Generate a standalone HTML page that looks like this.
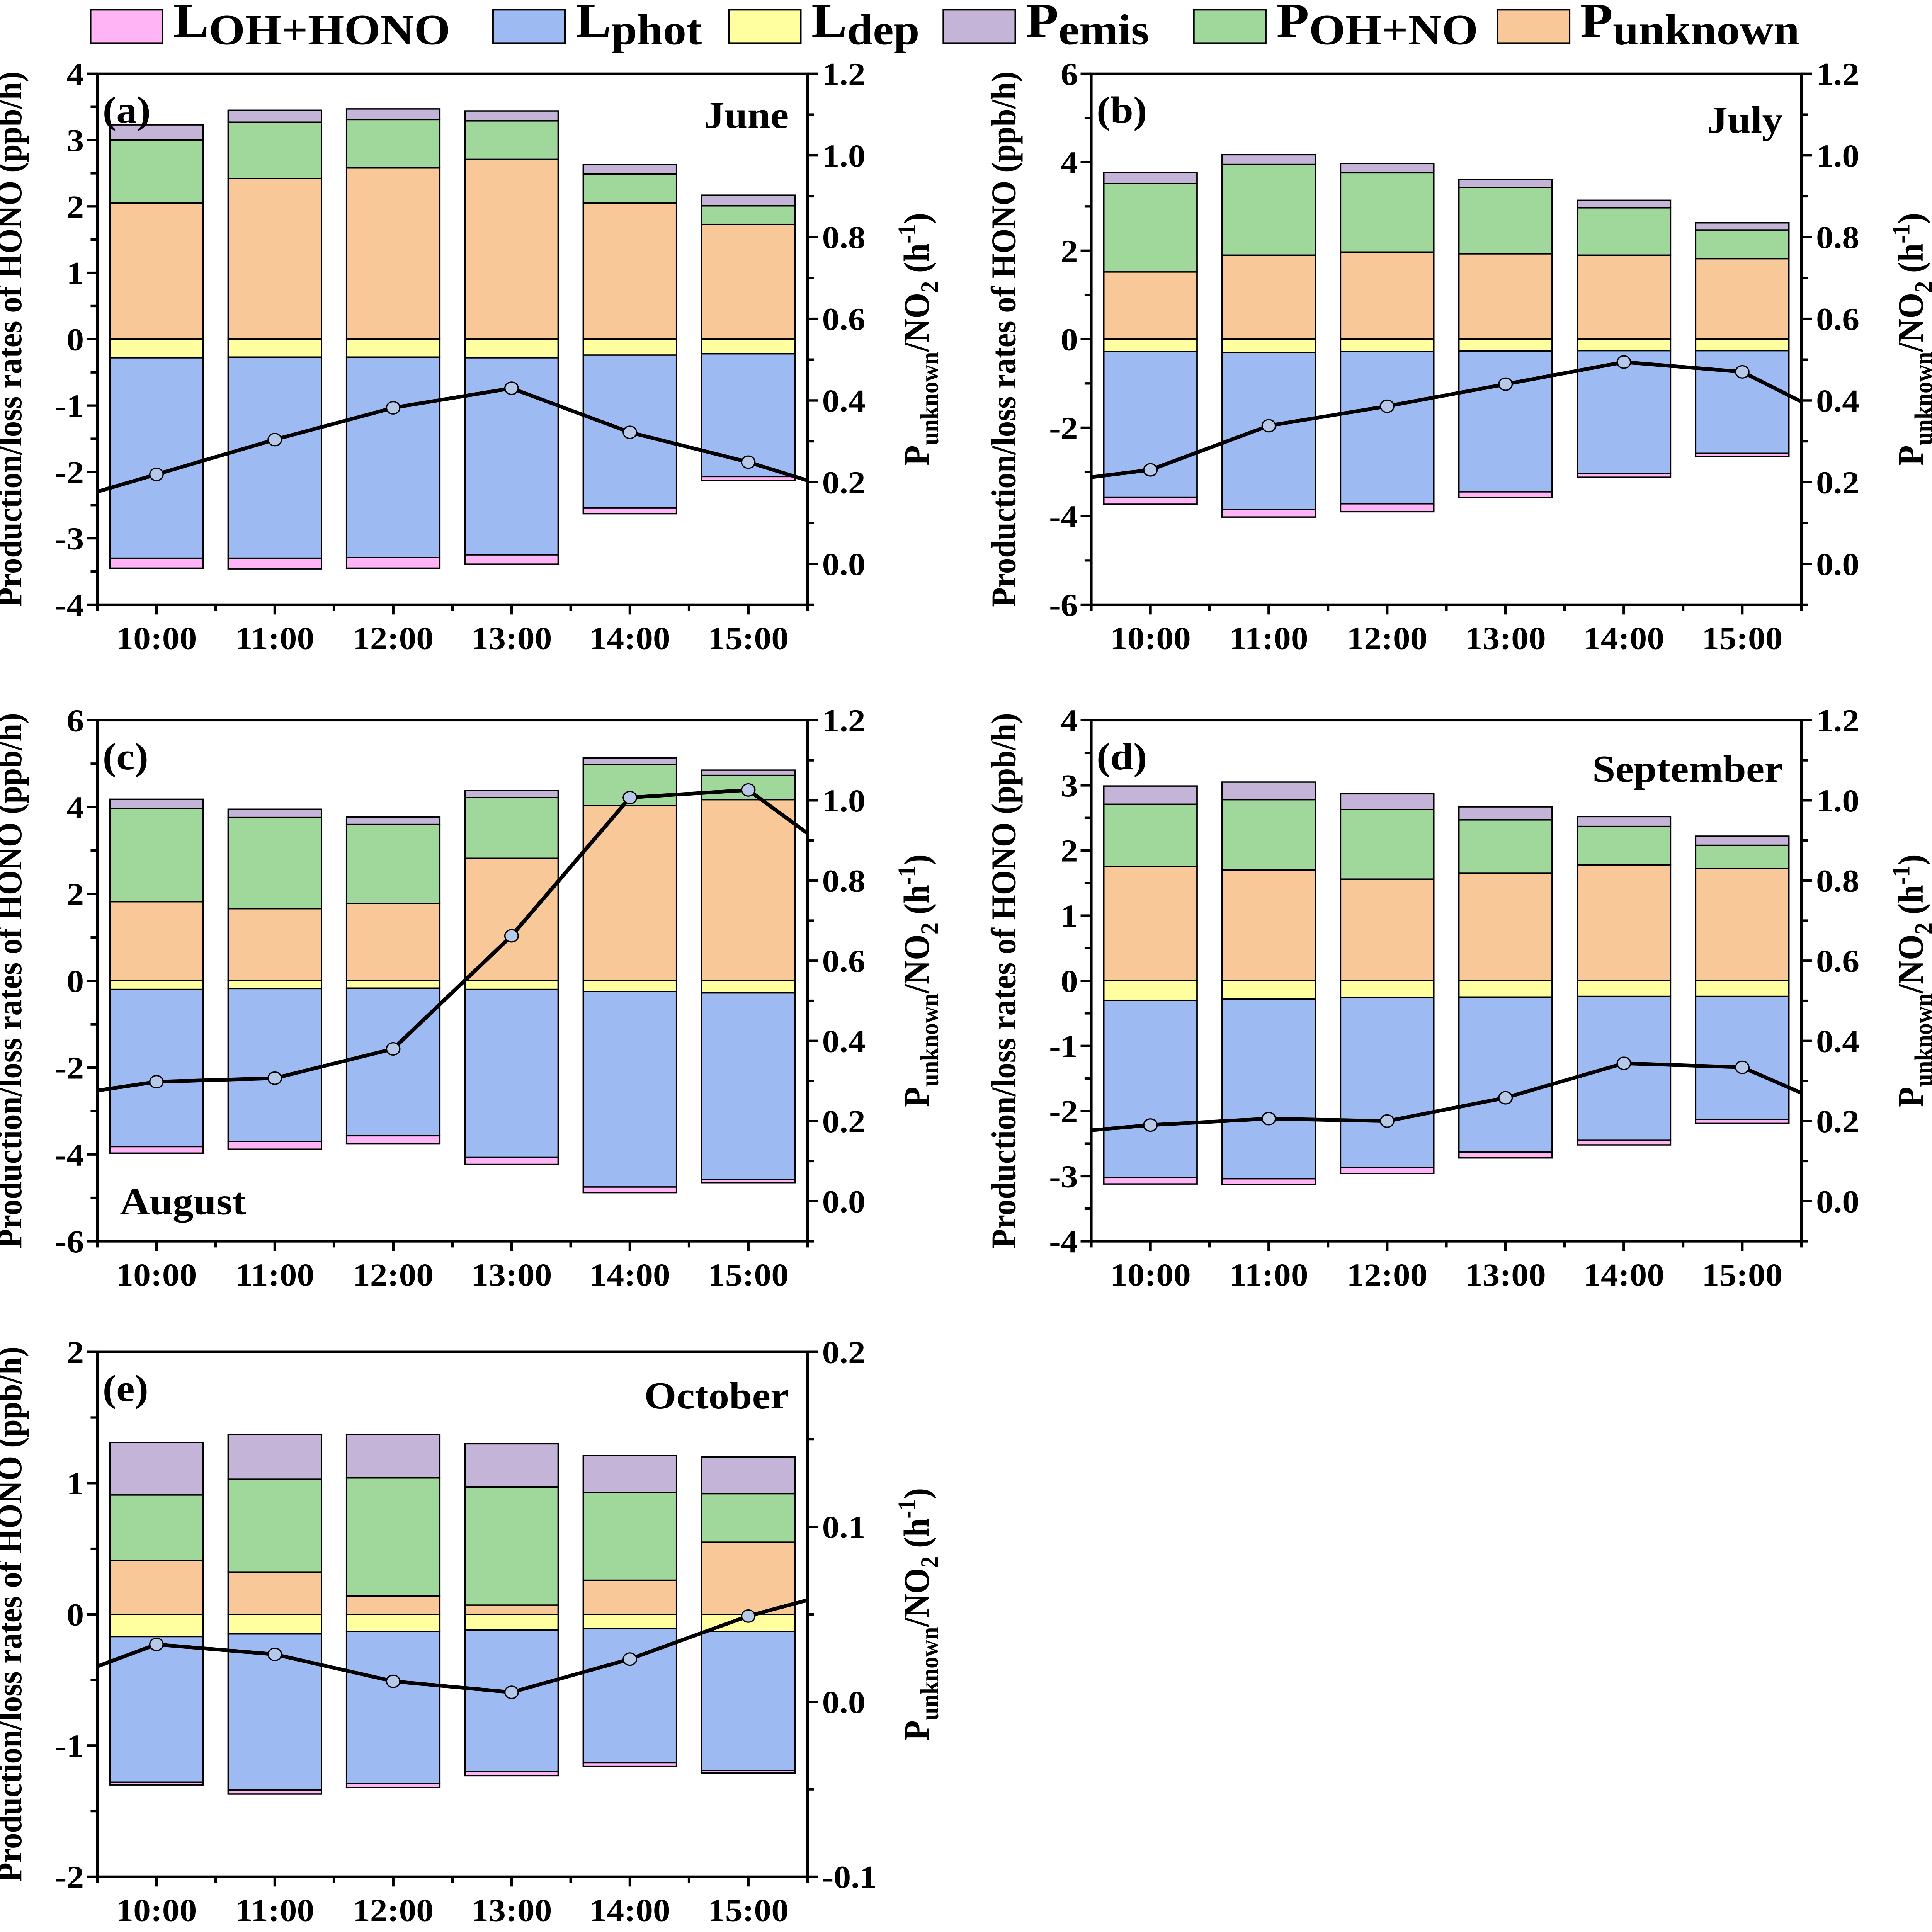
<!DOCTYPE html>
<html><head><meta charset="utf-8">
<style>
html,body{margin:0;padding:0;background:#fff;width:100%;height:100%;overflow:hidden;}
svg{display:block;width:100vw;height:100vh;}
text{font-family:"Liberation Serif","DejaVu Serif",serif;font-weight:bold;fill:#000;}
</style></head>
<body>
<svg id="chart" xmlns="http://www.w3.org/2000/svg" viewBox="0 0 1450 1572" preserveAspectRatio="none">
<rect x="0" y="0" width="1450" height="1572" fill="#fff"/>
</svg>
<script>
const categories = ["10:00","11:00","12:00","13:00","14:00","15:00"];
const lineHours = ["09:00","10:00","11:00","12:00","13:00","14:00","15:00","16:00"];
const seriesNames = ["LOH+HONO","Lphot","Ldep","Pemis","POH+NO","Punknown"];

// June (a)
const punknownA = [2.05,2.42,2.58,2.71,2.05,1.73];
const pohnoA = [0.95,0.85,0.73,0.58,0.44,0.28];
const pemisA = [0.23,0.18,0.16,0.15,0.14,0.16];
const ldepA = [0.28,0.27,0.27,0.28,0.24,0.22];
const lphotA = [3.02,3.03,3.02,2.97,2.30,1.85];
const lohA = [0.15,0.16,0.16,0.14,0.09,0.06];
const ratioA = [0.134,0.219,0.304,0.382,0.430,0.322,0.249,0.159];
// July (b)
const punknownB = [1.52,1.90,1.97,1.93,1.90,1.82];
const pohnoB = [2.00,2.05,1.79,1.50,1.07,0.65];
const pemisB = [0.25,0.22,0.21,0.18,0.17,0.16];
const ldepB = [0.28,0.30,0.28,0.27,0.26,0.26];
const lphotB = [3.29,3.55,3.44,3.18,2.77,2.32];
const lohB = [0.16,0.17,0.18,0.13,0.09,0.07];
const ratioB = [0.194,0.230,0.338,0.386,0.440,0.494,0.470,0.324];
// August (c)
const punknownC = [1.82,1.66,1.78,2.82,4.03,4.17];
const pohnoC = [2.15,2.10,1.82,1.40,0.95,0.56];
const pemisC = [0.21,0.19,0.17,0.16,0.15,0.12];
const ldepC = [0.20,0.18,0.17,0.20,0.25,0.28];
const lphotC = [3.62,3.52,3.40,3.87,4.50,4.29];
const lohC = [0.15,0.18,0.18,0.16,0.13,0.08];
const ratioC = [0.254,0.298,0.307,0.380,0.662,1.007,1.026,0.810];
// September (d)
const punknownD = [1.75,1.70,1.56,1.65,1.78,1.72];
const pohnoD = [0.96,1.08,1.07,0.82,0.59,0.36];
const pemisD = [0.28,0.27,0.24,0.20,0.15,0.14];
const ldepD = [0.30,0.28,0.26,0.25,0.24,0.24];
const lphotD = [2.72,2.76,2.61,2.38,2.21,1.89];
const lohD = [0.10,0.09,0.09,0.09,0.07,0.06];
const ratioD = [0.164,0.190,0.206,0.200,0.258,0.344,0.334,0.206];
// October (e)
const punknownE = [0.41,0.32,0.14,0.07,0.26,0.55];
const pohnoE = [0.50,0.71,0.90,0.90,0.67,0.37];
const pemisE = [0.40,0.34,0.33,0.33,0.28,0.28];
const ldepE = [0.17,0.15,0.13,0.12,0.11,0.13];
const lphotE = [1.11,1.19,1.16,1.08,1.02,1.06];
const lohE = [0.02,0.03,0.03,0.03,0.03,0.02];
const ratioE = [0.0076,0.0328,0.0271,0.0117,0.0054,0.0244,0.0490,0.0672];

const leftTicksAD = [-4,-3,-2,-1,0,1,2,3,4];
const leftTicksBC = [-6,-4,-2,0,2,4,6];
const leftTicksE = [-2,-1,0,1,2];
const rightTicks = [0.0,0.2,0.4,0.6,0.8,1.0,1.2];
const rightTicksE = [-0.1,0.0,0.1,0.2];

const COL = {punk:"#f9c898", poh:"#a0d89c", pemis:"#c4b4d8", ldep:"#ffff9f", lphot:"#9dbaf2", loh:"#ffb4f6"};
const NS = "http://www.w3.org/2000/svg";
const svg = document.getElementById("chart");
function mk(tag, attrs, parent){ const e=document.createElementNS(NS,tag); for(const k in attrs) e.setAttribute(k,attrs[k]); (parent||svg).appendChild(e); return e; }

const panels = [
 {id:"a", month:"June", mx:592, my:104, manchor:"end", x0:73,x1:606,y0:60,y1:492, lmin:-4,lmax:4, lt:leftTicksAD, lminor:0.5, rmin:-0.1,rmax:1.2, rt:rightTicks, rminor:0.1, rfmt:1,
  punk:punknownA,poh:pohnoA,pemis:pemisA,ldep:ldepA,lphot:lphotA,loh:lohA,ratio:ratioA},
 {id:"b", month:"July", mx:1338, my:108, manchor:"end", x0:819,x1:1352,y0:60,y1:492, lmin:-6,lmax:6, lt:leftTicksBC, lminor:1, rmin:-0.1,rmax:1.2, rt:rightTicks, rminor:0.1, rfmt:1,
  punk:punknownB,poh:pohnoB,pemis:pemisB,ldep:ldepB,lphot:lphotB,loh:lohB,ratio:ratioB},
 {id:"c", month:"August", mx:90, my:988, manchor:"start", x0:73,x1:606,y0:586,y1:1010, lmin:-6,lmax:6, lt:leftTicksBC, lminor:1, rmin:-0.1,rmax:1.2, rt:rightTicks, rminor:0.1, rfmt:1,
  punk:punknownC,poh:pohnoC,pemis:pemisC,ldep:ldepC,lphot:lphotC,loh:lohC,ratio:ratioC},
 {id:"d", month:"September", mx:1338, my:636, manchor:"end", x0:819,x1:1352,y0:586,y1:1010, lmin:-4,lmax:4, lt:leftTicksAD, lminor:0.5, rmin:-0.1,rmax:1.2, rt:rightTicks, rminor:0.1, rfmt:1,
  punk:punknownD,poh:pohnoD,pemis:pemisD,ldep:ldepD,lphot:lphotD,loh:lohD,ratio:ratioD},
 {id:"e", month:"October", mx:592, my:1146, manchor:"end", x0:73,x1:606,y0:1100,y1:1527, lmin:-2,lmax:2, lt:leftTicksE, lminor:0.5, rmin:-0.1,rmax:0.2, rt:rightTicksE, rminor:0.05, rfmt:1,
  punk:punknownE,poh:pohnoE,pemis:pemisE,ldep:ldepE,lphot:lphotE,loh:lohE,ratio:ratioE}
];

function drawPanel(p){
  const g = mk("g",{});
  
  
  const n = categories.length, step=(p.x1-p.x0)/n, bw=70;
  const yL = v => p.y1 - (v-p.lmin)/(p.lmax-p.lmin)*(p.y1-p.y0);
  const yR = v => p.y1 - (v-p.rmin)/(p.rmax-p.rmin)*(p.y1-p.y0);
  const xC = i => p.x0 + (i+0.5)*step;
  for(let i=0;i<n;i++){
    const segs = [
      ["punk",0,p.punk[i]],["poh",p.punk[i],p.punk[i]+p.poh[i]],["pemis",p.punk[i]+p.poh[i],p.punk[i]+p.poh[i]+p.pemis[i]],
      ["ldep",0,-p.ldep[i]],["lphot",-p.ldep[i],-p.ldep[i]-p.lphot[i]],["loh",-p.ldep[i]-p.lphot[i],-p.ldep[i]-p.lphot[i]-p.loh[i]]
    ];
    for(const s of segs){
      const ya=yL(s[1]), yb=yL(s[2]);
      const r = mk("rect",{x:xC(i)-bw/2,y:Math.min(ya,yb),width:bw,height:Math.abs(yb-ya),fill:COL[s[0]],stroke:"#000","stroke-width":1.1},g);
      
      
    }
  }
  const cp = mk("clipPath",{id:"clip"+p.id},g);
  mk("rect",{x:p.x0,y:p.y0,width:p.x1-p.x0,height:p.y1-p.y0},cp);
  const pts = p.ratio.map((v,j)=>(xC(j-1)).toFixed(1)+","+yR(v).toFixed(1)).join(" ");
  const pl = mk("polyline",{points:pts,fill:"none",stroke:"#000","stroke-width":3,"clip-path":"url(#clip"+p.id+")"},g);
  
  
  for(let j=1;j<=n;j++){
    const c = mk("circle",{cx:xC(j-1),cy:yR(p.ratio[j]),r:5,fill:"#b7c9e8",stroke:"#000","stroke-width":1},g);
    
    
  }
  const fr = mk("rect",{x:p.x0,y:p.y0,width:p.x1-p.x0,height:p.y1-p.y0,fill:"none",stroke:"#000","stroke-width":2},g);
  
  
  for(let v=p.lmin; v<=p.lmax+1e-9; v+=p.lminor){
    const major = p.lt.some(t=>Math.abs(t-v)<1e-9);
    mk("line",{x1:p.x0,x2:p.x0-(major?8:5),y1:yL(v),y2:yL(v),stroke:"#000","stroke-width":2},g);
  }
  for(const t of p.lt){
    const tx = mk("text",{x:p.x0-10,y:yL(t)+9,"text-anchor":"end","font-size":26},g);
    tx.textContent = String(t);
    
    
  }
  for(let v=p.rmin; v<=p.rmax+1e-9; v+=p.rminor){
    const major = p.rt.some(t=>Math.abs(t-v)<1e-9);
    mk("line",{x1:p.x1,x2:p.x1+(major?8:5),y1:yR(v),y2:yR(v),stroke:"#000","stroke-width":2},g);
  }
  for(const t of p.rt){
    const tx = mk("text",{x:p.x1+11,y:yR(t)+9,"text-anchor":"start","font-size":26},g);
    tx.textContent = t.toFixed(p.rfmt);
    
    
  }
  for(let k=0;k<=2*n;k++){
    const x=p.x0+k*step/2;
    mk("line",{x1:x,x2:x,y1:p.y1,y2:p.y1+(k%2?8:5),stroke:"#000","stroke-width":2},g);
  }
  for(let i=0;i<n;i++){
    const tx = mk("text",{x:xC(i),y:p.y1+36,"text-anchor":"middle","font-size":26},g);
    tx.textContent = categories[i];
    
    
  }
  const pl2 = mk("text",{x:p.x0+4,y:p.y0+40,"font-size":31},g);
  pl2.textContent = "("+p.id+")";
  
  
  const mt = mk("text",{x:p.mx,y:p.my,"text-anchor":p.manchor,"font-size":31},g);
  mt.textContent = p.month;
  
  
  const cy = (p.y0+p.y1)/2;
  const lx = p.x0-57;
  const lt = mk("text",{x:lx,y:cy,"text-anchor":"middle","font-size":26,transform:"rotate(-90 "+lx+" "+cy+")"},g);
  lt.textContent = "Production/loss rates of HONO (ppb/h)";
  
  
  const rx = p.x1+91;
  const rtt = mk("text",{x:rx,y:cy,"text-anchor":"middle","font-size":27,transform:"rotate(-90 "+rx+" "+cy+")"},g);
  rtt.innerHTML = 'P<tspan font-size="19" dy="7">unknown</tspan><tspan dy="-7">/NO</tspan><tspan font-size="19" dy="7">2</tspan><tspan dy="-7"> (h</tspan><tspan font-size="19" dy="-10">-1</tspan><tspan dy="10">)</tspan>';
  
  
}
panels.forEach(drawPanel);

const legendItems = [
  {c:COL.loh, bx:68, main:"L", sub:"OH+HONO"},
  {c:COL.lphot, bx:370, main:"L", sub:"phot"},
  {c:COL.ldep, bx:547, main:"L", sub:"dep"},
  {c:COL.pemis, bx:708, main:"P", sub:"emis"},
  {c:COL.poh, bx:896, main:"P", sub:"OH+NO"},
  {c:COL.punk, bx:1124, main:"P", sub:"unknown"}
];
const lg = mk("g",{});


legendItems.forEach((it,k)=>{
  const r = mk("rect",{x:it.bx,y:8,width:54,height:27,fill:it.c,stroke:"#000","stroke-width":1.2},lg);
  
  
  const t = mk("text",{x:it.bx+62,y:30,"font-size":40},lg);
  t.innerHTML = it.main+'<tspan font-size="35" dy="6">'+it.sub+'</tspan>';
  
  
});
</script>
</body></html>
